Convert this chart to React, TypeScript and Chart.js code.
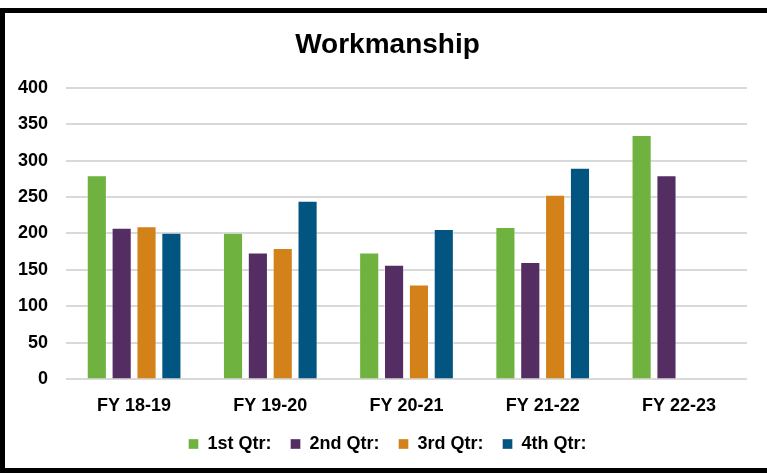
import React, { useEffect, useRef } from "react";
import { Chart, registerables } from "chart.js";

Chart.register(...registerables);

const categories = ["FY 18-19", "FY 19-20", "FY 20-21", "FY 21-22", "FY 22-23"];
const q1 = [280, 201, 174, 209, 335];
const q2 = [208, 174, 157, 161, 280];
const q3 = [210, 180, 130, 253, null];
const q4 = [201, 245, 206, 290, null];
const seriesNames = ["1st Qtr:", "2nd Qtr:", "3rd Qtr:", "4th Qtr:"];
const seriesColors = ["#6FB240", "#542E62", "#D3821A", "#025581"];
const yTicks = [0, 50, 100, 150, 200, 250, 300, 350, 400];

export default function App() {
  const ref = useRef<HTMLCanvasElement | null>(null);
  useEffect(() => {
    if (!ref.current) return;
    const values = [q1, q2, q3, q4];
    const font = "'Liberation Sans', Arial, sans-serif";
    const chart = new Chart(ref.current, {
      type: "bar",
      data: {
        labels: categories,
        datasets: values.map((v, i) => ({
          label: seriesNames[i],
          data: v,
          backgroundColor: seriesColors[i],
          borderColor: "rgba(255,255,255,0.35)",
          borderWidth: 1,
          categoryPercentage: 0.73,
          barPercentage: 0.81,
        })),
      },
      options: {
        responsive: false,
        animation: false,
        layout: { padding: { left: 0, right: 0, top: 0, bottom: 5 } },
        plugins: {
          title: {
            display: true,
            text: "Workmanship",
            color: "#000",
            font: { family: font, size: 28, weight: "bold" },
            padding: { top: 15, bottom: 26 },
          },
          legend: {
            position: "bottom",
            labels: {
              color: "#000",
              font: { family: font, size: 18, weight: "bold" },
              boxWidth: 10,
              boxHeight: 10,
              padding: 19,
            },
          },
          tooltip: { enabled: false },
        },
        scales: {
          x: {
            grid: { display: false },
            border: { display: false },
            ticks: {
              color: "#000",
              font: { family: font, size: 18, weight: "bold" },
              padding: 8,
            },
            afterFit: (axis: any) => {
              axis.height = axis.height - 9;
            },
          },
          y: {
            min: 0,
            max: 400,
            afterBuildTicks: (axis: any) => {
              axis.ticks = yTicks.map((v) => ({ value: v }));
            },
            afterFit: (axis: any) => {
              axis.width = 61;
            },
            grid: { color: "#d9d9d9", lineWidth: 2, drawTicks: false },
            border: { display: false },
            ticks: {
              color: "#000",
              font: { family: font, size: 18, weight: "bold" },
              padding: 18,
            },
          },
          yRight: {
            position: "right",
            display: true,
            grid: { display: false },
            border: { display: false },
            ticks: { display: false },
            afterFit: (axis: any) => {
              axis.width = 23;
            },
          },
        },
      },
    });
    return () => chart.destroy();
  }, []);
  return (
    <div
      style={{
        position: "fixed",
        left: 0,
        top: 8,
        width: 775,
        height: 465,
        border: "5px solid #000",
        boxSizing: "border-box",
        background: "#fff",
      }}
    >
      <canvas ref={ref} width={765} height={455} style={{ display: "block" }} />
    </div>
  );
}
